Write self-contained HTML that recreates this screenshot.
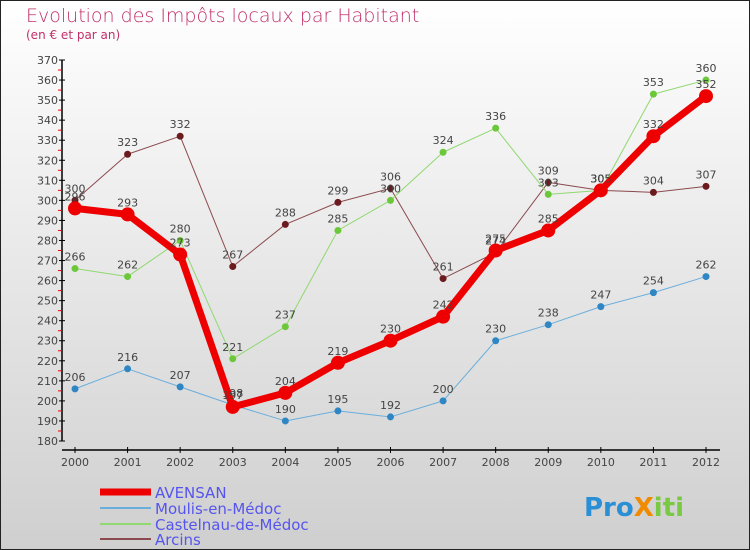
<!DOCTYPE html>
<html><head><meta charset="utf-8"><style>
body{margin:0;padding:0}
#wrap{position:relative;width:750px;height:550px;overflow:hidden;font-family:"DejaVu Sans","Liberation Sans",sans-serif}
</style></head><body>
<div id="wrap">
<svg id="chart" width="750" height="550" xmlns="http://www.w3.org/2000/svg">
<defs><linearGradient id="bg" x1="0" y1="0" x2="0" y2="1"><stop offset="0" stop-color="#ffffff"/><stop offset="1" stop-color="#cfcfcf"/></linearGradient></defs>
<rect x="0.5" y="0.5" width="749" height="549" fill="url(#bg)" stroke="#222"/>
<text x="26" y="22" font-size="19" fill="#c0306a" font-weight="200">Evolution des Impôts locaux par Habitant</text>
<text x="26" y="39" font-size="12" fill="#c0306a">(en € et par an)</text>
<g id="axes"></g><g id="series"></g><g id="legend"></g>
<text x="584" y="516" font-size="26" font-weight="bold"><tspan fill="#2b8fd6">Pro</tspan><tspan fill="#f08a00">X</tspan><tspan fill="#7ac943">iti</tspan></text>
</svg>
</div>
<script>
const years=[2000,2001,2002,2003,2004,2005,2006,2007,2008,2009,2010,2011,2012];
const yTicks=[180,190,200,210,220,230,240,250,260,270,280,290,300,310,320,330,340,350,360,370];
const seriesNames=["AVENSAN","Moulis-en-Médoc","Castelnau-de-Médoc","Arcins"];
const avensan=[296,293,273,197,204,219,230,242,275,285,305,332,352];
const moulis=[206,216,207,198,190,195,192,200,230,238,247,254,262];
const castelnau=[266,262,280,221,237,285,300,324,336,303,305,353,360];
const arcins=[300,323,332,267,288,299,306,261,274,309,305,304,307];
const NS="http://www.w3.org/2000/svg";
function X(i){return 75+i*(706-75)/(years.length-1);}
function Y(v){return 441-(v-180)*(441-60)/190;}
function mk(t,a,p){const e=document.createElementNS(NS,t);for(const k in a)e.setAttribute(k,a[k]);if(p)p.appendChild(e);return e;}
const ax=document.getElementById('axes');
const yl=mk('line',{x1:62,y1:60,x2:62,y2:441,stroke:'#000','stroke-width':1.5},ax);


const xl=mk('line',{x1:62,y1:450,x2:720,y2:450,stroke:'#000','stroke-width':1.5},ax);


yTicks.forEach((v,i)=>{
  mk('line',{x1:59,y1:Y(v),x2:65,y2:Y(v),stroke:'#000'},ax);
  if(i<yTicks.length-1)mk('line',{x1:58,y1:Y(v+5),x2:62,y2:Y(v+5),stroke:'#e00'},ax);
  const t=mk('text',{x:58,y:Y(v)+4,'text-anchor':'end','font-size':11,fill:'#444'},ax);
  t.textContent=v;
  
  
});
years.forEach((y,i)=>{
  mk('line',{x1:X(i),y1:447,x2:X(i),y2:453,stroke:'#000'},ax);
  const t=mk('text',{x:X(i),y:466,'text-anchor':'middle','font-size':11,fill:'#444'},ax);
  t.textContent=y;
  
  
});
const defs=[
 {d:arcins,c:'#6b1a1e',lc:'#8b4a4e',w:1,r:3.5},
 {d:castelnau,c:'#6cc83a',lc:'#90d870',w:1,r:3.5},
 {d:moulis,c:'#2f86c4',lc:'#6aaedc',w:1,r:3.5},
 {d:avensan,c:'#ee0000',lc:'#ee0000',w:7,r:7}
];
const sg=document.getElementById('series');
const snames=['arcins','castelnau','moulis','avensan'];
defs.forEach((s,k)=>{
  const g=mk('g',{},sg);
  
  
  mk('polyline',{points:s.d.map((v,i)=>X(i)+','+Y(v)).join(' '),fill:'none',stroke:s.lc,'stroke-width':s.w,'stroke-linejoin':'round'},g);
  s.d.forEach((v,i)=>{
    const c=mk('circle',{cx:X(i),cy:Y(v),r:s.r,fill:s.c},g);
    
    
    const t=mk('text',{x:X(i),y:Y(v)-8,'text-anchor':'middle','font-size':11,fill:'#444'},g);
    t.textContent=v;
    
    
  });
});
const lg=document.getElementById('legend');
const lcol=['#ee0000','#6aaedc','#90d870','#8b4a4e'],lw=[7,2,2,2],ly=[492,508,524,539];
seriesNames.forEach((n,i)=>{
  const g=mk('g',{},lg);
  
  
  mk('line',{x1:100,y1:ly[i],x2:151,y2:ly[i],stroke:lcol[i],'stroke-width':lw[i]},g);
  const t=mk('text',{x:155,y:ly[i]+6,'font-size':15,fill:'#5555ee'},g);
  t.textContent=n;
});
</script>
</body></html>
